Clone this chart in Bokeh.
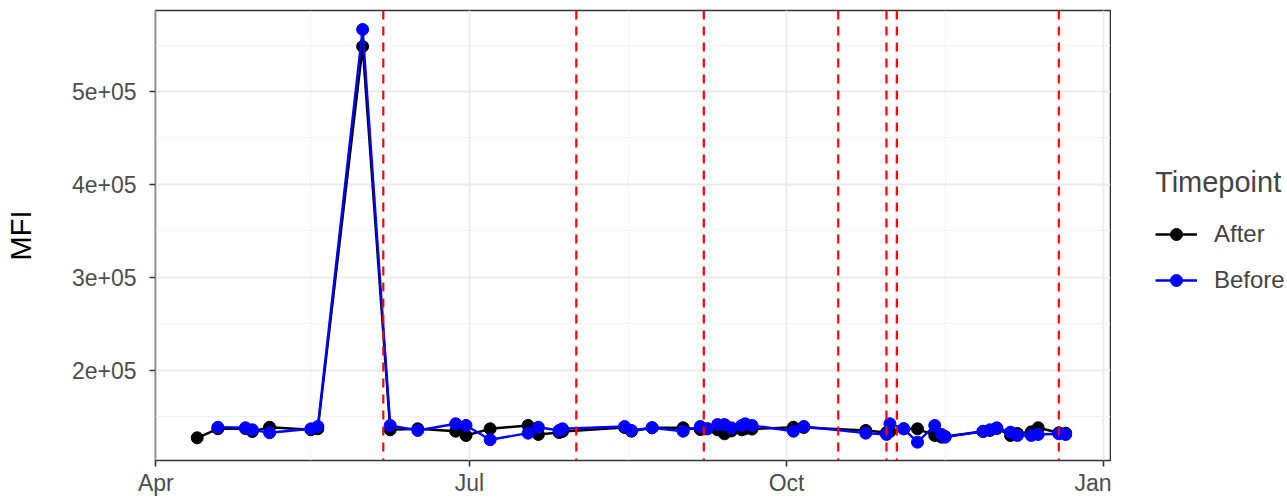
import pandas as pd
from bokeh.plotting import figure
from bokeh.layouts import row
from bokeh.models import FixedTicker, Span, Legend, LegendItem, Range1d
from bokeh.embed import file_html
from bokeh.resources import INLINE

# ---- data ----
after_dates = ["2021-04-13", "2021-04-19", "2021-04-27", "2021-04-29", "2021-05-04", "2021-05-16",
               "2021-05-18", "2021-05-31", "2021-06-08", "2021-06-16", "2021-06-27", "2021-06-30",
               "2021-07-07", "2021-07-18", "2021-07-21", "2021-07-27", "2021-07-28", "2021-08-15",
               "2021-08-17", "2021-08-23", "2021-09-01", "2021-09-06", "2021-09-08", "2021-09-11",
               "2021-09-13", "2021-09-15", "2021-09-18", "2021-09-19", "2021-09-21", "2021-10-03",
               "2021-10-06", "2021-10-24", "2021-10-30", "2021-10-31", "2021-11-04", "2021-11-08",
               "2021-11-13", "2021-11-15", "2021-11-16", "2021-11-27", "2021-11-29", "2021-12-01",
               "2021-12-05", "2021-12-07", "2021-12-11", "2021-12-13", "2021-12-19", "2021-12-21"]
after_mfi = [127600, 137300, 137500, 134400, 139000, 136200,
             137300, 548400, 136200, 137300, 134700, 130100,
             137300, 140900, 131200, 133300, 134400, 138700,
             134700, 138400, 138400, 136500, 137300, 136200,
             131900, 135000, 136200, 137300, 137000, 139000,
             138700, 135500, 133300, 134500, 137300, 137300,
             130100, 128300, 129000, 134400, 135500, 137600,
             130100, 132300, 134000, 138400, 133000, 132600]

before_dates = ["2021-04-19", "2021-04-27", "2021-04-29", "2021-05-04", "2021-05-16",
                "2021-05-18", "2021-05-31", "2021-06-08", "2021-06-16", "2021-06-27", "2021-06-30",
                "2021-07-07", "2021-07-18", "2021-07-21", "2021-07-27", "2021-07-28", "2021-08-15",
                "2021-08-17", "2021-08-23", "2021-09-01", "2021-09-06", "2021-09-08", "2021-09-11",
                "2021-09-13", "2021-09-15", "2021-09-18", "2021-09-19", "2021-09-21", "2021-10-03",
                "2021-10-06", "2021-10-24", "2021-10-30", "2021-10-31", "2021-11-04", "2021-11-08",
                "2021-11-13", "2021-11-15", "2021-11-16", "2021-11-27", "2021-11-29", "2021-12-01",
                "2021-12-05", "2021-12-07", "2021-12-11", "2021-12-13", "2021-12-19", "2021-12-21"]
before_mfi = [139000, 138400, 136200, 133000, 137300,
              139800, 566700, 140900, 135500, 142700, 140900,
              125500, 132600, 139000, 135500, 137300, 139800,
              135500, 138400, 134700, 139800, 137300, 141900,
              141900, 138400, 140900, 142700, 140900, 134700,
              139800, 132600, 131200, 142700, 137300, 122900,
              140900, 131200, 128300, 134700, 136200, 138400,
              133700, 130100, 130100, 131200, 131900, 131200]

event_dates = ["2021-06-06", "2021-08-01", "2021-09-07", "2021-10-16", "2021-10-30", "2021-11-02", "2021-12-19"]

x_tick_dates = ["2021-04-01", "2021-07-01", "2021-10-01", "2022-01-01"]
x_tick_labels = ["Apr", "Jul", "Oct", "Jan"]
x_minor_dates = ["2021-05-16", "2021-08-16", "2021-11-16"]
y_ticks = [200000, 300000, 400000, 500000]
y_tick_labels = ["2e+05", "3e+05", "4e+05", "5e+05"]
y_minor = [150000, 250000, 350000, 450000, 550000]

series_names = ["After", "Before"]
series_colors = ["#000000", "#0000FF"]

# ---- figure ----
def ms(d):
    return pd.Timestamp(d).value / 1e6

FONT = "Liberation Sans"

p = figure(width=1111, height=499, x_axis_type="datetime", output_backend="svg",
           toolbar_location=None,
           x_range=Range1d(ms("2021-04-01") - 0.1 * 86400000, ms("2022-01-03")),
           y_range=Range1d(103200, 587100),
           min_border_left=155, min_border_right=1, min_border_top=10, min_border_bottom=39)

p.background_fill_color = "white"
p.border_fill_color = "white"
p.outline_line_color = "#333333"
p.outline_line_width = 1.6

xt = [ms(d) for d in x_tick_dates]
p.xaxis.ticker = FixedTicker(ticks=xt, minor_ticks=[ms(d) for d in x_minor_dates])
p.xaxis.major_label_overrides = {t: l for t, l in zip(xt, x_tick_labels)}
p.yaxis.ticker = FixedTicker(ticks=y_ticks, minor_ticks=y_minor)
p.yaxis.major_label_overrides = {t: l for t, l in zip(y_ticks, y_tick_labels)}

for ax in (p.xaxis, p.yaxis):
    ax.axis_line_color = None
    ax.major_tick_line_color = "#333333"
    ax.major_tick_line_width = 1.6
    ax.major_tick_out = 6
    ax.major_tick_in = 0
    ax.minor_tick_line_color = None
    ax.major_label_text_font = FONT
    ax.major_label_text_font_size = "23px"
    ax.major_label_text_color = "#4D4D4D"

p.xaxis.major_label_standoff = 3
p.yaxis.major_label_standoff = 13
p.yaxis.axis_label = "MFI"
p.yaxis.axis_label_text_font = FONT
p.yaxis.axis_label_text_font_size = "29px"
p.yaxis.axis_label_text_font_style = "normal"
p.yaxis.axis_label_text_color = "#000000"
p.yaxis.axis_label_standoff = 32

for g in (p.xgrid, p.ygrid):
    g.grid_line_color = "#EBEBEB"
    g.grid_line_width = 1.8
    g.minor_grid_line_color = "#F2F2F2"
    g.minor_grid_line_width = 1

# event lines
for d in event_dates:
    p.add_layout(Span(location=ms(d), dimension="height", line_color="#FF0000",
                      line_width=2.2, line_dash="9 7"))

# legend panel: a small companion figure to the right of the plot; its
# ranges are set so that the (same) series data lie outside its view,
# and only the legend keys are visible.
p2 = figure(width=176, height=499, output_backend="svg", toolbar_location=None,
            x_axis_location=None, y_axis_location=None,
            x_range=Range1d(0, 1), y_range=Range1d(0, 1),
            min_border_left=0, min_border_right=0, min_border_top=10, min_border_bottom=39)
p2.grid.visible = False
p2.outline_line_color = None
p2.background_fill_color = "white"
p2.border_fill_color = "white"

items = []
for name, dates, vals, col in zip(series_names, [after_dates, before_dates],
                                  [after_mfi, before_mfi], series_colors):
    x = pd.to_datetime(dates)
    p.line(x, vals, line_color=col, line_width=2.4)
    p.scatter(x, vals, size=12, fill_color=col, line_color=col)
    kl = p2.line(x, vals, line_color=col, line_width=2.4)
    ks = p2.scatter(x, vals, size=12, fill_color=col, line_color=col)
    items.append(LegendItem(label=name, renderers=[kl, ks]))

legend = Legend(items=items, title="Timepoint", location=(44, 165),
                title_text_font=FONT, title_text_font_size="29px", title_text_font_style="normal",
                label_text_font=FONT, label_text_font_size="24px",
                glyph_width=42, glyph_height=30, label_height=30, spacing=16,
                label_standoff=17, title_standoff=20, padding=0, margin=0,
                border_line_color=None, background_fill_alpha=0)
p2.add_layout(legend)

layout = row(p, p2, spacing=0)
open("out.html", "w").write(file_html(layout, INLINE))
